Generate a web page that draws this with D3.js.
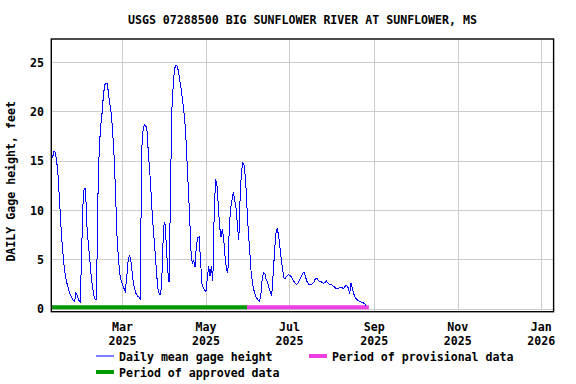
<!DOCTYPE html>
<html>
<head>
<meta charset="utf-8">
<script src="https://cdn.jsdelivr.net/npm/d3@7"></script>
<style>
    body { margin: 0; background: #fff; }
    text { font-family: "DejaVu Sans Mono", monospace; font-weight: bold; font-size: 11.6px; fill: #000; }
</style>
</head>
<body>
<div id="chart"></div>
<script>
const title = "USGS 07288500 BIG SUNFLOWER RIVER AT SUNFLOWER, MS"
const yLabel = "DAILY Gage height, feet"

// daily mean gage height, feet, one value per day from the first date
const firstDay = "2025-01-08"
const gageHeight = [
    15.9, 15.3, 16.0, 15.8, 14.9, 13.4, 11.0, 8.5, 6.4, 4.8, 3.6, 2.8, 2.3, 1.8, 1.4, 1.1, 0.85, 0.75,
    1.6, 1.3, 0.9, 0.65, 4.6, 10.3, 12.2, 12.2, 8.5, 6.6, 5.2, 3.5, 2.3, 1.4, 0.95, 0.95,
    11.0, 16.1, 18.4, 19.7, 21.5, 22.7, 22.9, 22.8, 21.5, 20.6, 19.6, 17.5, 15.2, 11.5, 7.4, 5.2, 3.6, 2.9, 2.4, 2.1,
    1.8, 3.0, 4.7, 5.45, 5.0, 3.8, 2.6, 2.0, 1.5, 1.3, 1.2, 0.9, 16.0, 18.0, 18.7, 18.6, 18.0, 15.5, 13.8, 11.5,
    9.0, 7.3, 5.5, 3.4, 2.0, 1.4, 1.5, 3.9, 8.3, 8.8, 6.5, 4.0, 2.7, 10.8, 20.0, 22.5, 24.3, 24.7, 24.6, 24.0,
    23.0, 22.2, 21.0, 19.8, 18.3, 15.5, 12.5, 9.6, 6.0, 4.6, 4.9, 4.2, 6.4, 7.2, 7.3, 5.0, 2.6, 2.1, 1.9, 1.7,
    3.2, 4.3, 3.3, 4.3, 2.8, 9.5, 13.1, 12.6, 10.5, 8.3, 7.3, 8.1, 7.0, 5.2, 4.0, 3.6, 8.1, 10.2, 11.0, 11.8,
    11.0, 10.2, 8.4, 7.0, 11.5, 14.0, 14.8, 14.5, 13.0, 10.2, 7.7, 5.8, 3.7, 2.6, 1.9, 1.4, 1.1, 0.9, 0.75, 1.2,
    2.9, 3.65, 3.6, 2.9, 2.7, 2.1, 1.7, 1.3, 3.3, 5.5, 7.6, 8.15, 7.5, 6.3, 5.0, 4.0, 3.1, 3.1, 3.3, 3.45,
    3.4, 3.3, 3.05, 2.85, 2.6, 2.45, 2.55, 2.8, 3.05, 3.4, 3.65, 3.65, 3.1, 2.7, 2.5, 2.45, 2.45, 2.55, 2.75, 3.05,
    3.1, 2.85, 2.75, 2.75, 2.65, 2.6, 2.65, 2.8, 2.65, 2.5, 2.5, 2.45, 2.3, 2.2, 2.05, 2.05, 2.1, 2.2, 2.2, 2.05,
    2.1, 2.35, 2.3, 2.1, 1.55, 2.6, 2.0, 1.5, 1.2, 0.95, 0.85, 0.78, 0.72, 0.62, 0.6, 0.5, 0.25
]

const approvedPeriod = ["2025-01-08", "2025-05-31"]
const provisionalPeriod = ["2025-05-31", "2025-08-28"]

const xDomain = ["2025-01-08", "2026-01-10"]
const xTicks = ["2025-03-01", "2025-05-01", "2025-07-01", "2025-09-01", "2025-11-01", "2026-01-01"]
const yTicks = [0, 5, 10, 15, 20, 25]
const yDomain = [-0.3, 27.35]

const legendItems = [
    {label: "Daily mean gage height", color: "#0000ff", width: 1, col: 0, row: 0},
    {label: "Period of provisional data", color: "#ee3ee0", width: 4, col: 1, row: 0},
    {label: "Period of approved data", color: "#009900", width: 4, col: 0, row: 1}
]

const W = 576, H = 384
const plot = {left: 51.3, right: 553.6, top: 39, bottom: 311.7}

const parse = d3.utcParse("%Y-%m-%d")
const start = parse(firstDay)
const series = gageHeight.map((v, i) => ({date: d3.utcDay.offset(start, i), value: v}))

const svg = d3.select("#chart").append("svg")
    .attr("width", W)
    .attr("height", H)

const x = d3.scaleUtc()
    .domain(xDomain.map(parse))
    .range([plot.left, plot.right])
const y = d3.scaleLinear()
    .domain(yDomain)
    .range([plot.bottom, plot.top])

// grid
const grid = svg.append("g").attr("stroke", "#cccccc").attr("stroke-width", 1)
grid.selectAll(".vgrid")
    .data(xTicks.map(parse))
    .enter().append("line")
    .attr("x1", d => Math.round(x(d)) + 0.5)
    .attr("x2", d => Math.round(x(d)) + 0.5)
    .attr("y1", plot.top)
    .attr("y2", plot.bottom)
grid.selectAll(".hgrid")
    .data(yTicks)
    .enter().append("line")
    .attr("x1", plot.left)
    .attr("x2", plot.right)
    .attr("y1", d => Math.round(y(d)) + 0.5)
    .attr("y2", d => Math.round(y(d)) + 0.5)

// data period bars
const periods = [
    {range: approvedPeriod, color: legendItems[2].color},
    {range: provisionalPeriod, color: legendItems[1].color}
]
svg.selectAll(".period")
    .data(periods)
    .enter().append("rect")
    .attr("x", d => x(parse(d.range[0])))
    .attr("width", d => x(parse(d.range[1])) - x(parse(d.range[0])))
    .attr("y", y(0) - 3.5)
    .attr("height", 4)
    .attr("fill", d => d.color)

// gage height line
const line = d3.line()
    .x(d => x(d.date))
    .y(d => y(d.value))
svg.append("path")
    .datum(series)
    .attr("d", line)
    .attr("fill", "none")
    .attr("stroke", "#0000ff")
    .attr("stroke-width", 1)
    .attr("shape-rendering", "crispEdges")

// frame
svg.append("rect")
    .attr("x", plot.left)
    .attr("y", plot.top)
    .attr("width", plot.right - plot.left)
    .attr("height", plot.bottom - plot.top)
    .attr("fill", "none")
    .attr("stroke", "#000")
    .attr("stroke-width", 1.4)

// y tick labels
svg.selectAll(".ylab")
    .data(yTicks)
    .enter().append("text")
    .attr("x", 44)
    .attr("y", d => y(d) + 4.5)
    .attr("text-anchor", "end")
    .text(d => d)

// x tick labels, month over year
const monthFmt = d3.utcFormat("%b")
const yearFmt = d3.utcFormat("%Y")
const xl = svg.selectAll(".xlab")
    .data(xTicks.map(parse))
    .enter().append("g")
xl.append("text")
    .attr("x", d => x(d))
    .attr("y", 331)
    .attr("text-anchor", "middle")
    .text(d => monthFmt(d))
xl.append("text")
    .attr("x", d => x(d))
    .attr("y", 345)
    .attr("text-anchor", "middle")
    .text(d => yearFmt(d))

// titles
svg.append("text")
    .attr("x", (plot.left + plot.right) / 2)
    .attr("y", 24.3)
    .attr("text-anchor", "middle")
    .text(title)
svg.append("text")
    .attr("transform", "translate(15," + ((plot.top + plot.bottom) / 2 + 6) + ") rotate(-90)")
    .attr("text-anchor", "middle")
    .text(yLabel)

// legend
const legend = svg.selectAll(".legend")
    .data(legendItems)
    .enter().append("g")
    .attr("transform", d => "translate(" + (96 + d.col * 213) + "," + (356 + d.row * 16) + ")")
legend.append("line")
    .attr("x1", 0)
    .attr("x2", 18)
    .attr("stroke", d => d.color)
    .attr("stroke-width", d => d.width)
legend.append("text")
    .attr("x", 23)
    .attr("y", 4.5)
    .text(d => d.label)
</script>
</body>
</html>
